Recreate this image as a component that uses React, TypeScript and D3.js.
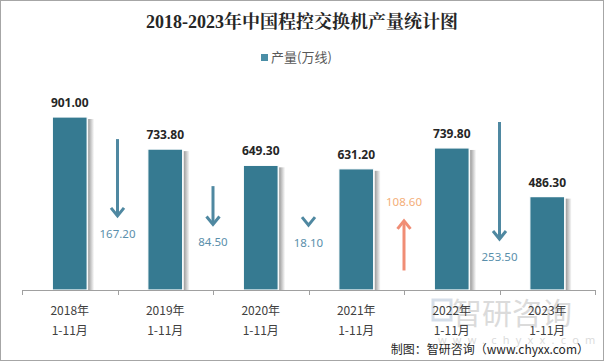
import React from "react";
import * as d3 from "d3";

const categories = ["2018年", "2019年", "2020年", "2021年", "2022年", "2023年"];
const periodLabel = "1-11月";
const values = [901.0, 733.8, 649.3, 631.2, 739.8, 486.3];
const changes = [167.2, 84.5, 18.1, 108.6, 253.5];
const changeDir = ["down", "down", "down", "up", "down"];
// where each arrow starts (top), in value units
const arrowTops = [786, 541, 390, 365, 875];

const W = 604;
const H = 361;

export default function App() {
  const x = d3.scaleBand<string>().domain(categories).range([22, 595]).paddingInner(0).paddingOuter(0);
  const y = d3.scaleLinear().domain([0, 1000]).range([290, 98]);
  const arrowLen = d3.scaleLinear().domain([0, 253.5]).range([0, 118]);
  const step = x.step();
  const bw = step * 0.365;
  const barColor = "#367a91";
  const downColor = "#4f88a1";
  const downLabel = "#5a8fab";
  const upColor = "#f08d75";
  const upLabel = "#f4ae78";

  return (
    <svg width={W} height={H} style={{ position: "absolute", left: 0, top: 0, background: "#fff" }}
      fontFamily="'Noto Sans', 'Noto Sans CJK SC', sans-serif">
      <defs>
        <linearGradient id="shadow" x1="0" x2="1" y1="0" y2="0">
          <stop offset="0" stopColor="#9a9a9a" />
          <stop offset="1" stopColor="#ffffff" />
        </linearGradient>
      </defs>
      <rect x={0.5} y={0.5} width={W - 1} height={H - 1} fill="#fff" stroke="#a6a6a6" />
      <text x={302} y={28} textAnchor="middle" fontSize={18} fontWeight="bold"
        fontFamily="'Liberation Serif', 'Noto Serif CJK SC', 'Noto Sans CJK SC', serif" fill="#262626">
        2018-2023年中国程控交换机产量统计图
      </text>
      <rect x={261} y={54} width={7} height={7} fill="#4a8ea6" />
      <text x={271} y={62} fontSize={13} fill="#595959" fontFamily="'Noto Sans CJK SC', sans-serif">产量(万线)</text>

      {/* watermark */}
      <g opacity={0.35}>
        <rect x={433} y={300} width={18} height={20} fill="none" stroke="#8aa3c2" strokeWidth={3} />
        <text x={452} y={324} fontSize={30} fill="#9a9a9a" fontFamily="'Noto Sans CJK SC', sans-serif">智研咨询</text>
        <text x={438} y={344} fontSize={11} fill="#9a9a9a" letterSpacing={6.2}>www.chyxx.com</text>
      </g>

      {values.map((v, i) => {
        const cx = (x(categories[i]) as number) + step / 2;
        const top = y(v);
        return (
          <g key={i}>
            <rect x={cx + bw / 2 + 1} y={top + 2} width={6} height={290 - top - 2} fill="url(#shadow)" />
            <rect x={cx - bw / 2} y={top} width={bw} height={290 - top} fill={barColor} stroke="#fff" strokeWidth={1.2} />
            <text x={cx} y={top - 10} textAnchor="middle" fontSize={12} fontWeight="bold" fill="#262626">
              {v.toFixed(2)}
            </text>
          </g>
        );
      })}

      <line x1={22} x2={595} y1={290.5} y2={290.5} stroke="#a0a0a0" />
      {d3.range(categories.length + 1).map((i) => {
        const tx = Math.round(22 + i * step) + 0.5;
        return <line key={i} x1={tx} x2={tx} y1={290} y2={295} stroke="#a0a0a0" />;
      })}
      {categories.map((c, i) => {
        const cx = (x(c) as number) + step / 2;
        return (
          <g key={c} fontSize={12} fill="#404040" textAnchor="middle" fontFamily="'Noto Sans CJK SC', sans-serif">
            <text x={cx} y={315}>{c}</text>
            <text x={cx} y={335}>{periodLabel}</text>
          </g>
        );
      })}

      {changes.map((c, i) => {
        const ax = (x(categories[i]) as number) + step;
        const top = y(arrowTops[i]);
        const len = Math.max(arrowLen(c), 11);
        const hw = 6.5;
        const hh = 9;
        if (changeDir[i] === "down") {
          const bot = top + len;
          return (
            <g key={i}>
              {len > 14 && <line x1={ax} x2={ax} y1={top} y2={bot - 2} stroke={downColor} strokeWidth={3} />}
              <polyline points={`${ax - hw},${bot - hh} ${ax},${bot - 1} ${ax + hw},${bot - hh}`} fill="none"
                stroke={downColor} strokeWidth={3} />
              <text x={ax} y={bot + 21} textAnchor="middle" fontSize={11.5} fill={downLabel}>{c.toFixed(2)}</text>
            </g>
          );
        }
        const bot = top + len;
        return (
          <g key={i}>
            <line x1={ax} x2={ax} y1={top + 2} y2={bot} stroke={upColor} strokeWidth={3} />
            <polyline points={`${ax - hw},${top + hh} ${ax},${top + 1} ${ax + hw},${top + hh}`} fill="none"
              stroke={upColor} strokeWidth={3} />
            <text x={ax} y={top - 14} textAnchor="middle" fontSize={11.5} fill={upLabel}>{c.toFixed(2)}</text>
          </g>
        );
      })}

      <text x={589} y={354} textAnchor="end" fontSize={12} fill="#262626"
        fontFamily="'Noto Sans CJK SC', sans-serif">制图：智研咨询（www.chyxx.com）</text>
    </svg>
  );
}
